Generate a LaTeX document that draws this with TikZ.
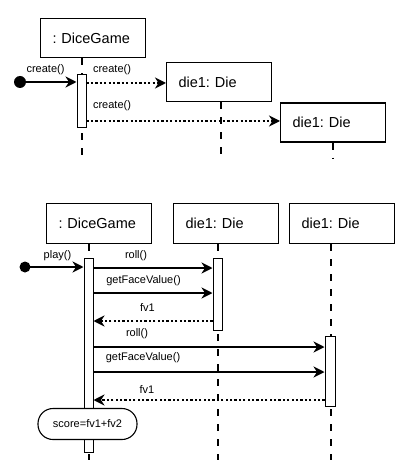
\documentclass[tikz,border=0pt]{standalone}
\usepackage{fontspec}
\setmainfont{Liberation Sans}
\usetikzlibrary{arrows.meta}
\frenchspacing
\begin{document}
\begin{tikzpicture}[x=1pt,y=-1pt,
 obj/.style={draw, line width=1.1pt, fill=white, anchor=north west, text width=81pt, align=left,
   inner xsep=12pt, inner ysep=0pt, minimum height=39pt, font=\fontsize{14.5}{16}\selectfont},
 lbl/.style={font=\fontsize{11}{12}\selectfont, inner sep=0pt},
 actbar/.style={draw, line width=1pt, fill=white, minimum width=9pt, inner sep=0pt},
 life/.style={line width=2.6pt, dash pattern=on 7pt off 8pt},
 msg/.style={line width=2.4pt, -{Stealth[length=11pt,width=11pt,inset=3.5pt]}},
 ret/.style={msg, dash pattern=on 2.2pt off 2.2pt},
 startdot/.style={circle, fill=black, inner sep=0pt, minimum size=12pt},
]
\useasboundingbox (0,0) rectangle (413,470);

% ---------- top diagram ----------
\node[obj] (dg1) at (40,18) {: DiceGame};
\node[obj] (d1) at (166,62) {die1: Die};
\node[obj] (d2) at (280,102.5) {die1: Die};

\coordinate (e1) at (82,157);
\coordinate (e2) at (221,157);
\coordinate (e3) at (333,158);
\draw[life] (dg1.south -| e1) -- (e1);
\draw[life] (d1.south -| e2) -- (e2);
\draw[life] (d2.south -| e3) -- (e3);

\node[actbar, minimum height=53pt] (b1) at (81.5,101.5) {};
\node[startdot] (c1) at (20,82) {};

\coordinate (m1) at (0,82);
\coordinate (m2) at (0,83);
\coordinate (m3) at (0,121);
\draw[msg] (c1.center) -- (b1.west |- m1);
\draw[ret] (b1.east |- m2) -- (d1.west |- m2);
\draw[ret] (b1.east |- m3) -- (d2.west |- m3);

\node[lbl] (t1) at (45.5,70) {create()};
\node[lbl] (t2) at (112,70) {create()};
\node[lbl] (t3) at (112,106) {create()};

% ---------- bottom diagram ----------
\node[obj, minimum height=40pt] (dg2) at (46,203) {: DiceGame};
\node[obj, minimum height=40pt] (d3) at (173,203) {die1: Die};
\node[obj, minimum height=40pt] (d4) at (289,203) {die1: Die};

\coordinate (f1) at (89,460);
\coordinate (f2) at (218,460);
\coordinate (f3) at (331,460);
\draw[life] (dg2.south -| f1) -- (f1);
\draw[life] (d3.south -| f2) -- (f2);
\draw[life] (d4.south -| f3) -- (f3);

\node[actbar, minimum height=194pt] (b2) at (88.5,355) {};
\node[actbar, minimum height=72pt] (b3) at (217.5,294) {};
\node[actbar, minimum height=70pt, minimum width=10pt] (b4) at (330,371) {};
\node[startdot, minimum size=11pt] (c2) at (25,267) {};

\coordinate (n1) at (0,267);
\coordinate (n2) at (0,268);
\coordinate (n3) at (0,293);
\coordinate (n4) at (0,321);
\coordinate (n5) at (0,347);
\coordinate (n6) at (0,372);
\coordinate (n7) at (0,400);
\draw[msg] (c2.center) -- (b2.west |- n1);
\draw[msg] (b2.east |- n2) -- (b3.west |- n2);
\draw[msg] (b2.east |- n3) -- (b3.west |- n3);
\draw[ret] (b3.west |- n4) -- (b2.east |- n4);
\draw[msg] (b2.east |- n5) -- (b4.west |- n5);
\draw[msg] (b2.east |- n6) -- (b4.west |- n6);
\draw[ret] (b4.west |- n7) -- (b2.east |- n7);

\node[lbl] (u1) at (57.5,256) {play()};
\node[lbl] (u2) at (136,256) {roll()};
\node[lbl] (u3) at (143.5,281) {getFaceValue()};
\node[lbl] (u4) at (147.5,308) {fv1};
\node[lbl] (u5) at (137,334) {roll()};
\node[lbl] (u6) at (143,358) {getFaceValue()};
\node[lbl] (u7) at (147,390) {fv1};

\node[draw, line width=1.1pt, fill=white, rounded corners=15pt, minimum width=99pt, minimum height=31pt,
  inner sep=0pt, font=\fontsize{11}{12}\selectfont] (sc) at (87.5,424) {score=fv1+fv2};
\end{tikzpicture}
\end{document}
